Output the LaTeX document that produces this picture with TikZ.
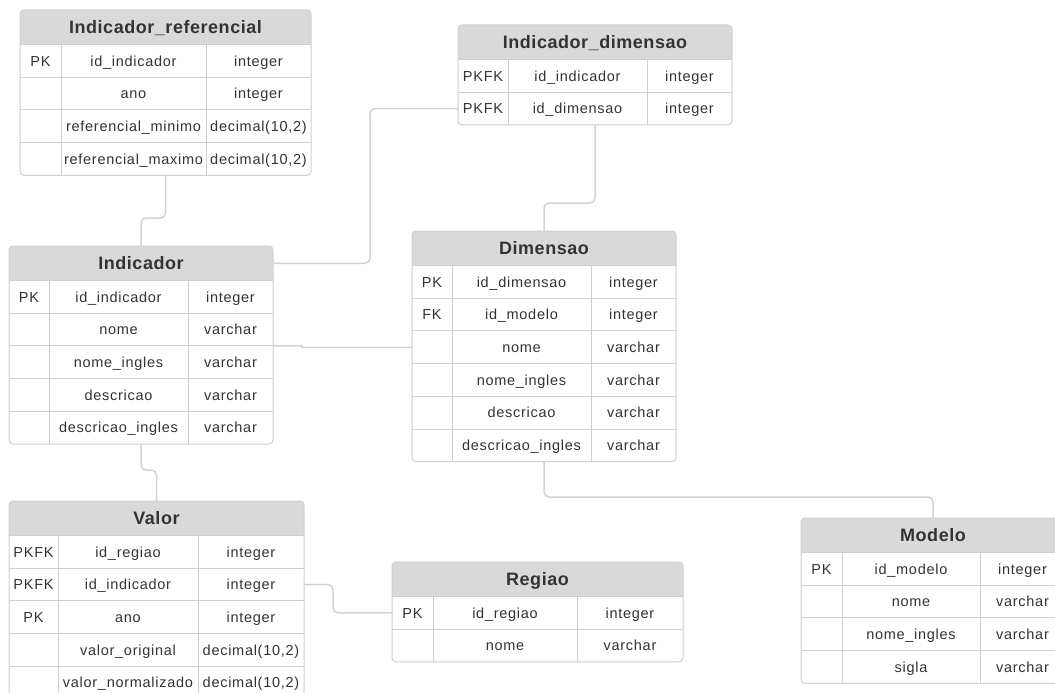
\documentclass[tikz,border=0pt]{standalone}
\usepackage{fontspec}
\setmainfont{Liberation Sans}
\newfontfamily\cellfamily{Liberation Sans}[LetterSpace=5]
\newfontfamily\hdrfamily{Liberation Sans}[LetterSpace=3]
\definecolor{hdrgray}{HTML}{D9D9D9}
\definecolor{bordergray}{HTML}{CFCFCF}
\definecolor{conngray}{HTML}{D3D3D3}
\definecolor{txtcol}{HTML}{333333}
\def\hh{34.5}
\def\rh{32.7}
\tikzset{
 tablebox/.style={draw=bordergray, line width=1pt, rounded corners=4pt, inner sep=0pt, outer sep=0pt},
 rowbox/.style={inner sep=0pt, outer sep=0pt},
 hdrbox/.style={inner sep=0pt, outer sep=0pt, font=\hdrfamily\bfseries\fontsize{18}{20}\selectfont, text=txtcol, text height=12.9pt, text depth=0pt},
 celltext/.style={inner sep=0pt, font=\cellfamily\fontsize{14.5}{17}\selectfont, text=txtcol, text height=10.4pt, text depth=0pt},
 gridline/.style={draw=bordergray, line width=1pt},
 conn/.style={draw=conngray, line width=1.5pt, rounded corners=5pt},
}
\newcommand{\dbtable}[9]{%
 \pgfmathsetmacro{\tbH}{#3+\hh}%
 \pgfmathsetmacro{\tbB}{\tbH+#7*\rh}%
 \pgfmathsetmacro{\tbW}{#4-#2}%
 \pgfmathsetmacro{\tbT}{\tbB-#3}%
 \begin{scope}
  \clip[rounded corners=4pt] (#2,#3) rectangle (#4,\tbB);
  \fill[white] (#2,#3) rectangle (#4,\tbB);
  \fill[hdrgray] (#2,#3) rectangle (#4,\tbH);
 \end{scope}
 \foreach \k/\f/\ty [count=\i] in {#9}{%
   \pgfmathsetmacro{\ry}{\tbH+(\i-1)*\rh}%
   \pgfmathsetmacro{\rc}{\ry+\rh/2}%
   \draw[gridline] (#2,\ry) -- (#4,\ry);
   \node[rowbox, anchor=north west, minimum width=\tbW pt, minimum height=\rh pt] (#1-r\i) at (#2,\ry) {};
   \node[celltext] (#1-k\i) at ({(#2+#5)/2},\rc) {\k};
   \node[celltext] (#1-f\i) at ({(#5+#6)/2},\rc) {\f};
   \node[celltext] (#1-t\i) at ({(#6+#4)/2},\rc) {\ty};
 }
 \draw[gridline] (#5,\tbH) -- (#5,\tbB) (#6,\tbH) -- (#6,\tbB);
 \node[hdrbox, anchor=north west, minimum width=\tbW pt, minimum height=\hh pt] (#1-h) at (#2,#3) {#8};
 \node[tablebox, anchor=north west, minimum width=\tbW pt, minimum height=\tbT pt] (#1) at (#2,#3) {};
}
\begin{document}
\begin{tikzpicture}[x=1pt,y=-1pt]
\useasboundingbox (0,0) rectangle (1055,693);
\fill[white] (0,0) rectangle (1055,693);
\clip (0,0) rectangle (1055,693);

\dbtable{ref}{20}{10}{311}{61}{206}{4}{Indicador\_referencial}{PK/id\_indicador/integer, /ano/integer, /referencial\_minimo/{decimal(10,2)}, /referencial\_maximo/{decimal(10,2)}}
\dbtable{indim}{458}{25}{732}{508}{647}{2}{Indicador\_dimensao}{PKFK/id\_indicador/integer, PKFK/id\_dimensao/integer}
\dbtable{ind}{9}{246}{273}{49}{188}{5}{Indicador}{PK/id\_indicador/integer, /nome/varchar, /nome\_ingles/varchar, /descricao/varchar, /descricao\_ingles/varchar}
\dbtable{dim}{412}{231}{676}{452}{591}{6}{Dimensao}{PK/id\_dimensao/integer, FK/id\_modelo/integer, /nome/varchar, /nome\_ingles/varchar, /descricao/varchar, /descricao\_ingles/varchar}
\dbtable{val}{9}{501}{304}{58}{198}{5}{Valor}{PKFK/id\_regiao/integer, PKFK/id\_indicador/integer, PK/ano/integer, /valor\_original/{decimal(10,2)}, /valor\_normalizado/{decimal(10,2)}}
\dbtable{reg}{392}{562}{683}{433}{577}{2}{Regiao}{PK/id\_regiao/integer, /nome/varchar}
\dbtable{mod}{801}{518}{1065}{842}{980}{4}{Modelo}{PK/id\_modelo/integer, /nome/varchar, /nome\_ingles/varchar, /sigla/varchar}

\draw[conn] (ref.south) -- (ref.south |- 0,218) -| (ind.north);
\draw[conn] (indim-r2.west) -- ++(-88,0) |- (ind-h.east);
\draw[conn] (indim.south) -- (indim.south |- 0,203) -| (dim.north);
\draw[conn, rounded corners=1pt] (ind-r2.south east) -- ++(29,0) |- (dim-r3.west);
\draw[conn] (ind.south) -- (ind.south |- 0,470) -| (val.north);
\draw[conn] (val-r2.east) -- ++(29,0) |- (reg-r1.west);
\draw[conn] (dim.south) -- (dim.south |- 0,497) -| (mod.north);
\end{tikzpicture}
\end{document}
